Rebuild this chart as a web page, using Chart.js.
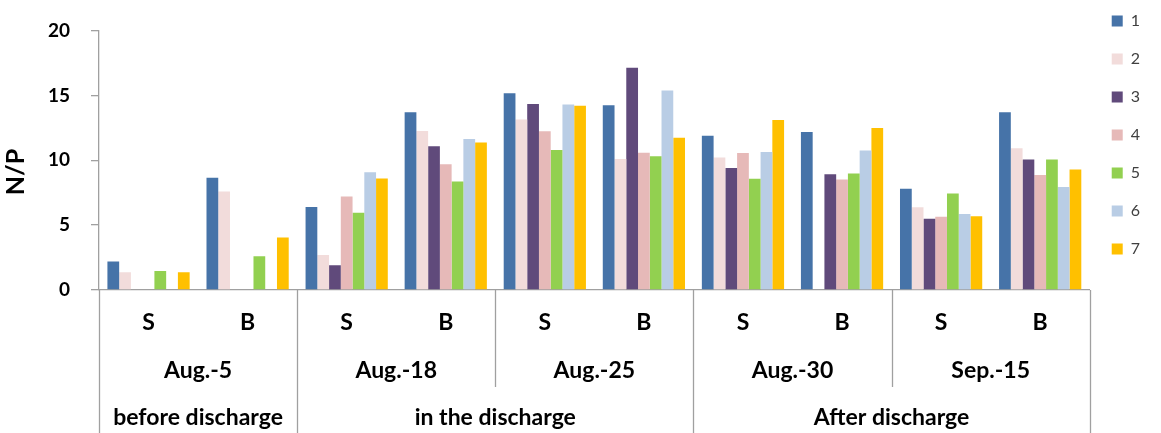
<!DOCTYPE html>
<html>
<head>
<meta charset="utf-8">
<script src="https://cdn.jsdelivr.net/npm/chart.js@4.4.1/dist/chart.umd.min.js"></script>
<style>
html,body{margin:0;padding:0;background:#fff;}
#wrap{width:1161px;height:433px;position:relative;}
</style>
</head>
<body>
<div id="wrap"><canvas id="c" width="1161" height="433"></canvas></div>
<script>
// ---- data ----
const categories = ['S','B','S','B','S','B','S','B','S','B'];
const dates = ['Aug.-5','Aug.-18','Aug.-25','Aug.-30','Sep.-15'];
const phaseLabels = ['before discharge','in the discharge','After discharge'];
const phaseSpans = [1, 2, 2]; // number of dates per phase
const seriesNames = ['1','2','3','4','5','6','7'];
const s1 = [2.2, 8.65, 6.4, 13.7, 15.17, 14.24, 11.88, 12.17, 7.81, 13.69];
const s2 = [1.36, 7.6, 2.7, 12.26, 13.14, 10.1, 10.21, null, 6.38, 10.93];
const s3 = [null, null, 1.9, 11.07, 14.33, 17.12, 9.4, 8.93, 5.5, 10.05];
const s4 = [null, null, 7.2, 9.7, 12.24, 10.57, 10.55, 8.52, 5.64, 8.86];
const s5 = [1.47, 2.6, 5.95, 8.36, 10.79, 10.31, 8.57, 8.98, 7.43, 10.05];
const s6 = [null, null, 9.07, 11.64, 14.29, 15.38, 10.64, 10.76, 5.86, 7.93];
const s7 = [1.36, 4.05, 8.6, 11.36, 14.21, 11.74, 13.1, 12.48, 5.69, 9.29];
const yTicks = [0, 5, 10, 15, 20];
const yTitle = 'N/P';

const seriesValues = [s1, s2, s3, s4, s5, s6, s7];
const colors = ['#4673A8', '#F2DCDB', '#604A7B', '#E6B9B8', '#92D050', '#B9CDE5', '#FFC000'];

const FONT = 'Lato, "Liberation Sans", sans-serif';
const LINE = '#A0A0A0';

const multiLevel = {
  id: 'multiLevel',
  afterLayout(chart) {
    if (chart.legend) chart.legend.top = -9;
  },
  afterDraw(chart) {
    const ctx = chart.ctx;
    const x = chart.scales.x;
    const area = chart.chartArea;
    const y0 = area.bottom;
    const H = chart.height;
    const half = (x.getPixelForValue(1) - x.getPixelForValue(0)) / 2;
    const edgeAt = i => x.getPixelForValue(i) - half; // left edge of category i
    ctx.save();
    ctx.strokeStyle = LINE;
    ctx.lineWidth = 1.3;
    const phaseEdges = [0];
    let acc = 0;
    phaseSpans.forEach(s => { acc += s; phaseEdges.push(acc); });
    for (let d = 0; d <= dates.length; d++) {
      const px = Math.round(edgeAt(d * 2)) + 0.5;
      const full = phaseEdges.includes(d);
      ctx.beginPath();
      ctx.moveTo(px, y0);
      ctx.lineTo(px, full ? H : y0 + 97);
      ctx.stroke();
    }
    ctx.fillStyle = '#000';
    ctx.textAlign = 'center';
    ctx.textBaseline = 'middle';
    ctx.font = 'bold 23px ' + FONT;
    dates.forEach((d, i) => {
      const cx = (edgeAt(i * 2) + edgeAt(i * 2 + 2)) / 2;
      ctx.fillText(d, cx, y0 + 81);
    });
    let start = 0;
    phaseLabels.forEach((p, i) => {
      const end = start + phaseSpans[i];
      const cx = (edgeAt(start * 2) + edgeAt(end * 2)) / 2;
      ctx.fillText(p, cx, y0 + 128);
      start = end;
    });
    // y-axis title
    ctx.translate(16, 172);
    ctx.rotate(-Math.PI / 2);
    ctx.font = 'bold 25px ' + FONT;
    ctx.fillText(yTitle, 0, 0);
    ctx.restore();
  }
};

new Chart(document.getElementById('c'), {
  type: 'bar',
  data: {
    labels: categories,
    datasets: seriesValues.map((v, i) => ({
      label: seriesNames[i],
      data: v,
      backgroundColor: colors[i],
      borderWidth: 0,
      categoryPercentage: 0.83,
      barPercentage: 1.0
    }))
  },
  options: {
    responsive: false,
    animation: false,
    layout: { padding: { left: 0, right: 11, top: 0, bottom: 0 } },
    plugins: {
      legend: {
        position: 'right',
        align: 'start',
        labels: {
          boxWidth: 11,
          boxHeight: 11,
          padding: 22,
          color: '#404040',
          font: { family: FONT, size: 16 }
        }
      },
      tooltip: { enabled: false }
    },
    scales: {
      x: {
        type: 'category',
        grid: { display: false, drawTicks: false },
        border: { display: true, color: LINE, width: 1.3 },
        ticks: {
          color: '#000',
          padding: 19,
          maxRotation: 0,
          font: { family: FONT, size: 23, weight: 'bold' }
        },
        afterFit: s => { s.height = 143; }
      },
      y: {
        min: 0,
        max: 20,
        afterBuildTicks: s => { s.ticks = yTicks.map(v => ({ value: v })); },
        grid: { display: true, drawOnChartArea: false, drawTicks: true, tickLength: 8, color: LINE, lineWidth: 1.3 },
        border: { display: true, color: LINE, width: 1.3 },
        ticks: {
          color: '#000',
          padding: 21,
          font: { family: FONT, size: 19, weight: 'bold', lineHeight: 1.0 }
        },
        afterFit: s => { s.width = 99; }
      }
    }
  },
  plugins: [multiLevel]
});
</script>
</body>
</html>
